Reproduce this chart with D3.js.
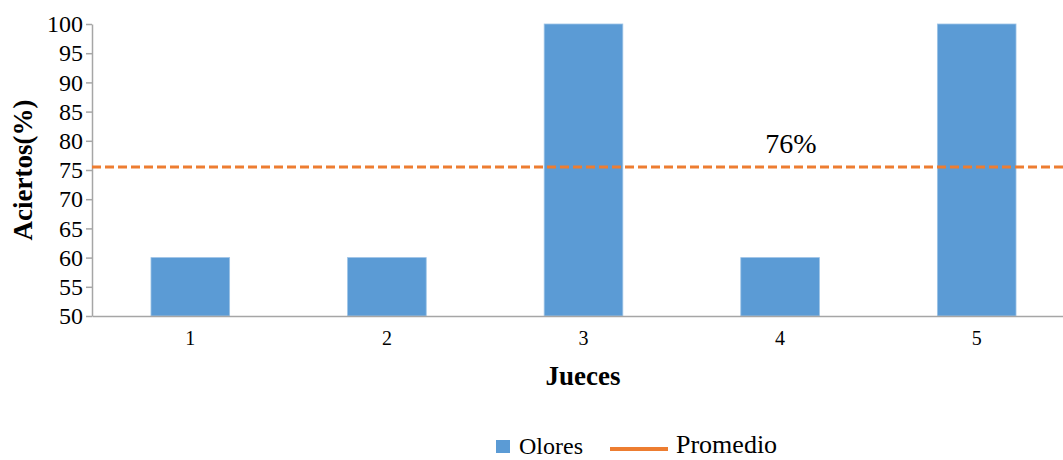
<!DOCTYPE html>
<html>
<head>
<meta charset="utf-8">
<script src="https://cdn.jsdelivr.net/npm/d3@7"></script>
<style>
  html, body { margin: 0; padding: 0; background: #fff; }
</style>
</head>
<body>
<svg id="chart" width="1063" height="460" font-family="Liberation Serif, Times New Roman, serif"></svg>
<script>
// Judges and their hit rate (%) for odours
const jueces = ["1", "2", "3", "4", "5"];
const olores = [60, 60, 100, 60, 100];
const promedio = 75.5;
const yTicks = [50, 55, 60, 65, 70, 75, 80, 85, 90, 95, 100];

const SERIF = "Liberation Serif, Times New Roman, serif";
const svg = d3.select("#chart");
const margin = { left: 92, top: 24, bottom: 316 };
const plotRight = 1075;

const x = d3.scaleBand()
  .domain(jueces)
  .range([margin.left, plotRight])
  .paddingInner(0.6)
  .paddingOuter(0.3);

const y = d3.scaleLinear()
  .domain([50, 100])
  .range([margin.bottom, margin.top]);

// Bars
svg.append("g").selectAll("rect")
  .data(olores)
  .join("rect")
  .attr("x", (d, i) => x(jueces[i]))
  .attr("y", d => y(d))
  .attr("width", x.bandwidth())
  .attr("height", d => y(50) - y(d))
  .attr("fill", "#5b9bd5")
  .attr("stroke", "#9dc3e6")
  .attr("stroke-width", 0.8);

// Y axis
const yAxis = svg.append("g")
  .attr("transform", `translate(${margin.left},0)`)
  .call(d3.axisLeft(y).tickValues(yTicks).tickSize(6).tickSizeOuter(0).tickPadding(3));
yAxis.attr("font-family", SERIF);
yAxis.select(".domain").attr("stroke", "#a6a6a6").attr("stroke-width", 1.5);
yAxis.selectAll(".tick line").attr("stroke", "#a6a6a6").attr("stroke-width", 1.5);
yAxis.selectAll(".tick text")
  .attr("font-size", 24)
  .attr("fill", "#000");

// X axis
const xAxis = svg.append("g")
  .attr("transform", `translate(0,${margin.bottom})`)
  .call(d3.axisBottom(x).tickSize(0).tickSizeOuter(0).tickPadding(15));
xAxis.attr("font-family", SERIF);
xAxis.select(".domain").attr("stroke", "#a6a6a6").attr("stroke-width", 1.5);
xAxis.selectAll(".tick text")
  .attr("font-size", 20)
  .attr("fill", "#000");

// Average line
svg.append("line")
  .attr("x1", margin.left)
  .attr("x2", plotRight)
  .attr("y1", y(promedio))
  .attr("y2", y(promedio))
  .attr("stroke", "#ed7d31")
  .attr("stroke-width", 3)
  .attr("stroke-dasharray", "9,4");

svg.append("text")
  .attr("x", 791)
  .attr("y", y(promedio) - 14)
  .attr("text-anchor", "middle")
  .attr("font-family", SERIF)
  .attr("font-size", 28)
  .attr("fill", "#000")
  .text(d3.format(".0f")(promedio) + "%");

// Axis titles
svg.append("text")
  .attr("transform", "translate(32,170) rotate(-90)")
  .attr("text-anchor", "middle")
  .attr("font-family", SERIF)
  .attr("font-size", 27)
  .attr("font-weight", "bold")
  .attr("fill", "#000")
  .text("Aciertos(%)");

svg.append("text")
  .attr("x", 583)
  .attr("y", 385)
  .attr("text-anchor", "middle")
  .attr("font-family", SERIF)
  .attr("font-size", 27)
  .attr("font-weight", "bold")
  .attr("fill", "#000")
  .text("Jueces");

// Legend
const legend = svg.append("g").attr("font-family", SERIF);
legend.append("rect")
  .attr("x", 496).attr("y", 440)
  .attr("width", 14).attr("height", 13)
  .attr("fill", "#5b9bd5");
legend.append("text")
  .attr("x", 519).attr("y", 454)
  .attr("font-size", 24)
  .attr("fill", "#000")
  .text("Olores");
legend.append("line")
  .attr("x1", 610).attr("x2", 668)
  .attr("y1", 449).attr("y2", 449)
  .attr("stroke", "#ed7d31")
  .attr("stroke-width", 4);
legend.append("text")
  .attr("x", 676).attr("y", 453)
  .attr("font-size", 26)
  .attr("fill", "#000")
  .text("Promedio");
</script>
</body>
</html>
